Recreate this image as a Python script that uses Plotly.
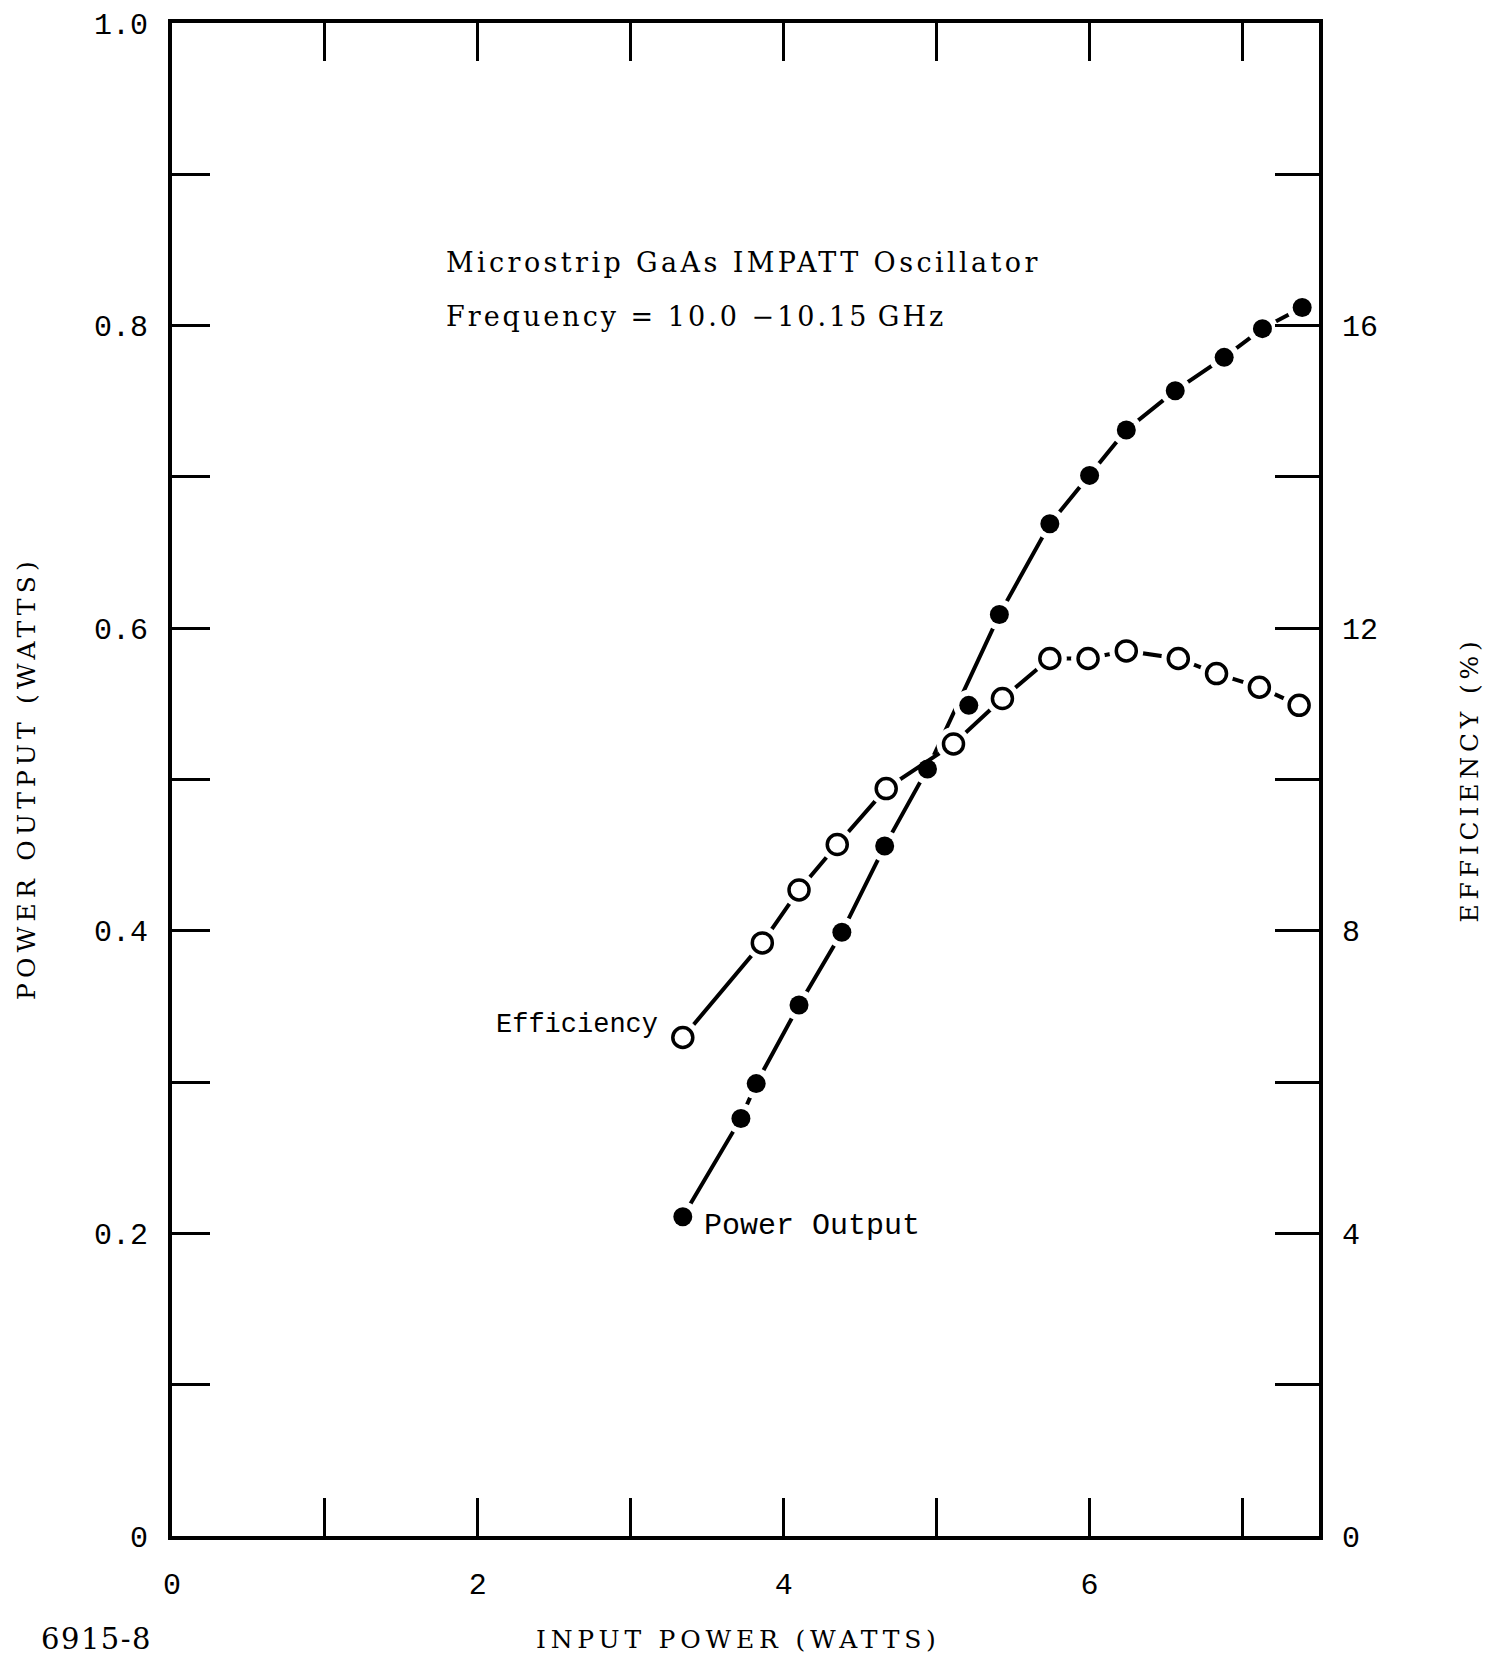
import plotly.graph_objects as go

# ---- data ----
power_x = [3.34, 3.72, 3.82, 4.10, 4.38, 4.66, 4.94, 5.21, 5.41, 5.74, 6.00, 6.24, 6.56, 6.88, 7.13, 7.39]
power_y = [0.211, 0.276, 0.299, 0.351, 0.399, 0.456, 0.507, 0.549, 0.609, 0.669, 0.701, 0.731, 0.757, 0.779, 0.798, 0.812]
# the hand-drawn power curve passes by the point at 5.21 W
power_off_curve = [7]

eff_x = [3.34, 3.86, 4.10, 4.35, 4.67, 5.11, 5.43, 5.74, 5.99, 6.24, 6.58, 6.83, 7.11, 7.37]
eff_y = [6.59, 7.84, 8.54, 9.14, 9.88, 10.47, 11.07, 11.60, 11.60, 11.70, 11.60, 11.40, 11.22, 10.98]

x_ticks = [0, 1, 2, 3, 4, 5, 6, 7]
x_ticktext = ["0", "", "2", "", "4", "", "6", ""]
y_ticks = [0.0, 0.1, 0.2, 0.3, 0.4, 0.5, 0.6, 0.7, 0.8, 0.9, 1.0]
y_ticktext = ["0", "", "0.2", "", "0.4", "", "0.6", "", "0.8", "", "1.0"]
y2_ticks = [0, 2, 4, 6, 8, 10, 12, 14, 16, 18, 20]
y2_ticktext = ["0", "", "4", "", "8", "", "12", "", "16", "", ""]

W, H = 1491, 1656
ML, MR, MT, MB = 172, 172, 23, 120

MONO = "Liberation Mono"
SERIF = "DejaVu Serif"

curve_x = [v for i, v in enumerate(power_x) if i not in power_off_curve]
curve_y = [v for i, v in enumerate(power_y) if i not in power_off_curve]

fig = go.Figure()

# connecting lines
fig.add_trace(go.Scatter(x=eff_x, y=eff_y, yaxis="y2", mode="lines",
                         line=dict(color="black", width=4), hoverinfo="skip", showlegend=False))
fig.add_trace(go.Scatter(x=curve_x, y=curve_y, mode="lines",
                         line=dict(color="black", width=4), hoverinfo="skip", showlegend=False))
# white halos to break the lines around markers
fig.add_trace(go.Scatter(x=eff_x, y=eff_y, yaxis="y2", mode="markers",
                         marker=dict(color="white", size=34, line=dict(width=0)),
                         hoverinfo="skip", showlegend=False))
fig.add_trace(go.Scatter(x=power_x, y=power_y, mode="markers",
                         marker=dict(color="white", size=31, line=dict(width=0)),
                         hoverinfo="skip", showlegend=False))
# markers
fig.add_trace(go.Scatter(x=eff_x, y=eff_y, yaxis="y2", mode="markers", name="Efficiency",
                         marker=dict(color="white", size=20, symbol="circle",
                                     line=dict(color="black", width=3.5)),
                         showlegend=False))
fig.add_trace(go.Scatter(x=power_x, y=power_y, mode="markers", name="Power Output",
                         marker=dict(color="black", size=19, symbol="circle",
                                     line=dict(width=0)),
                         showlegend=False))

tickfont = dict(family=MONO, size=30, color="black")

fig.update_layout(
    width=W, height=H,
    margin=dict(l=ML, r=MR, t=MT, b=MB, autoexpand=False),
    paper_bgcolor="white", plot_bgcolor="white",
    showlegend=False,
    xaxis=dict(range=[0, 7.5], tickvals=x_ticks, ticktext=x_ticktext,
               ticks="inside", ticklen=38, tickwidth=3, tickcolor="black",
               showline=True, linewidth=4, linecolor="black", mirror="ticks",
               showgrid=False, zeroline=False, tickfont=tickfont,
               ticklabelstandoff=18, automargin=False),
    yaxis=dict(range=[0, 1.0], tickvals=y_ticks, ticktext=y_ticktext,
               ticks="inside", ticklen=38, tickwidth=3, tickcolor="black",
               showline=True, linewidth=4, linecolor="black",
               showgrid=False, zeroline=False, tickfont=tickfont,
               ticklabelstandoff=14, automargin=False),
    yaxis2=dict(range=[0, 20], tickvals=y2_ticks, ticktext=y2_ticktext,
                overlaying="y", side="right",
                ticks="inside", ticklen=44, tickwidth=3, tickcolor="black",
                showline=True, linewidth=4, linecolor="black",
                showgrid=False, zeroline=False, tickfont=tickfont,
                ticklabelstandoff=13, automargin=False),
)

def ann(text, x, y, xanchor="center", yanchor="middle", font=None, textangle=0, spacing=None):
    if spacing:
        text = '<span style="letter-spacing:%.1fpx">%s</span>' % (spacing, text)
    fig.add_annotation(text=text, x=x, y=y, xref="paper", yref="paper",
                       xanchor=xanchor, yanchor=yanchor, showarrow=False,
                       textangle=textangle, font=font)

serif_font = dict(family=SERIF, size=27, color="black")
title_font = dict(family=SERIF, size=25, color="black")

ann("Microstrip GaAs IMPATT Oscillator", 0.237, 0.842, xanchor="left", font=serif_font, spacing=3.4)
ann("Frequency = 10.0 \u221210.15\u2009GHz", 0.237, 0.806, xanchor="left", font=serif_font, spacing=3.0)
ann("Efficiency", 0.4255, 0.338, xanchor="right", font=dict(family=MONO, size=27, color="black"))
ann("Power Output", 0.462, 0.205, xanchor="left", font=dict(family=MONO, size=30, color="black"))
ann("INPUT POWER (WATTS)", 0.4935, -0.0684, font=title_font, spacing=4.8)
ann("6915-8", -0.0654, -0.0684, font=dict(family=SERIF, size=29, color="black"), spacing=1.5)
ann("POWER OUTPUT (WATTS)", -0.1264, 0.501, font=title_font, textangle=-90, spacing=5.2)
ann("EFFICIENCY (%)", 1.1316, 0.50, font=title_font, textangle=-90, spacing=4.8)

fig.write_html("out.html")
